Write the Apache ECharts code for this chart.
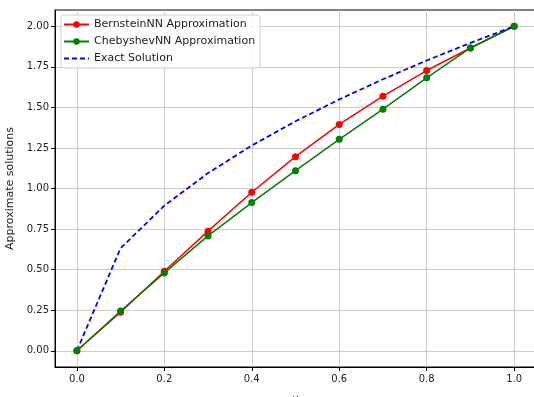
<!DOCTYPE html>
<html>
<head>
<meta charset="utf-8">
<script src="https://cdn.jsdelivr.net/npm/echarts@6/dist/echarts.min.js"></script>
<style>
  html, body { margin: 0; padding: 0; background: #fff; }
  #chart { width: 534px; height: 397px; }
</style>
</head>
<body>
<div id="chart"></div>
<script>
// u values (x axis)
const uValues = [0.0, 0.1, 0.2, 0.3, 0.4, 0.5, 0.6, 0.7, 0.8, 0.9, 1.0];
// BernsteinNN approximation
const bernstein = [0.0, 0.238, 0.49, 0.737, 0.977, 1.196, 1.395, 1.569, 1.727, 1.866, 2.0];
// ChebyshevNN approximation
const chebyshev = [0.0, 0.245, 0.48, 0.708, 0.913, 1.11, 1.303, 1.489, 1.682, 1.866, 2.0];
// exact solution
const exact = [0.0, 0.632, 0.894, 1.095, 1.265, 1.414, 1.549, 1.673, 1.789, 1.897, 2.0];
// tick labels
const xTicks = [0.0, 0.2, 0.4, 0.6, 0.8, 1.0];
const yTicks = [0.0, 0.25, 0.5, 0.75, 1.0, 1.25, 1.5, 1.75, 2.0];

const pairs = (ys) => uValues.map((u, i) => [u, ys[i]]);

const font = 'DejaVu Sans';
const myChart = echarts.init(document.getElementById('chart'));

const axisCommon = {
    type: 'value',
    axisLine: { show: true, onZero: false, lineStyle: { color: '#000', width: 1 } },
    axisTick: { show: true, length: 4, lineStyle: { color: '#000', width: 1 } },
    splitLine: { show: true, lineStyle: { color: '#c0c0c0', width: 0.8 } },
    nameTextStyle: { fontFamily: font, fontSize: 11, color: '#222' }
};

const option = {
    animation: false,
    grid: {
        left: 55, top: 10, width: 481, height: 357,
        outerBoundsMode: 'none', containLabel: false,
        show: true, borderColor: '#000', borderWidth: 1
    },
    legend: {
        left: 61,
        top: 15,
        orient: 'vertical',
        itemWidth: 25,
        itemHeight: 8,
        itemGap: 6,
        padding: [4, 5, 4, 2],
        backgroundColor: 'rgba(255,255,255,0.85)',
        borderColor: '#d0d0d0',
        borderWidth: 1,
        borderRadius: 3,
        textStyle: { fontFamily: font, fontSize: 11, color: '#222' },
        data: [
            'BernsteinNN Approximation',
            'ChebyshevNN Approximation',
            { name: 'Exact Solution', itemStyle: { opacity: 0 } }
        ]
    },
    xAxis: Object.assign({}, axisCommon, {
        min: -0.05,
        max: 1.05,
        name: 'u',
        nameLocation: 'middle',
        nameGap: 27,
        axisTick: Object.assign({}, axisCommon.axisTick, { customValues: xTicks }),
        axisLabel: {
            customValues: xTicks,
            fontFamily: font, fontSize: 10, color: '#222', margin: 7,
            formatter: (v) => v.toFixed(1)
        }
    }),
    yAxis: Object.assign({}, axisCommon, {
        min: -0.1,
        max: 2.1,
        name: 'Approximate solutions',
        nameLocation: 'middle',
        nameGap: 37,
        axisTick: Object.assign({}, axisCommon.axisTick, { customValues: yTicks }),
        axisLabel: {
            customValues: yTicks,
            fontFamily: font, fontSize: 10, color: '#222', margin: 6,
            formatter: (v) => v.toFixed(2)
        }
    }),
    series: [
        {
            name: 'BernsteinNN Approximation',
            type: 'line',
            data: pairs(bernstein),
            symbol: 'circle',
            symbolSize: 7,
            color: '#ff0000',
            lineStyle: { width: 1.5, color: '#ff0000' },
            itemStyle: { color: '#ff0000' }
        },
        {
            name: 'ChebyshevNN Approximation',
            type: 'line',
            data: pairs(chebyshev),
            symbol: 'circle',
            symbolSize: 7,
            color: '#008000',
            lineStyle: { width: 1.5, color: '#008000' },
            itemStyle: { color: '#008000' }
        },
        {
            name: 'Exact Solution',
            type: 'line',
            data: pairs(exact),
            symbol: 'none',
            color: '#0000ff',
            lineStyle: { width: 1.8, color: '#0000ff', type: [5, 3] },
            itemStyle: { color: '#0000ff' }
        }
    ]
};

myChart.setOption(option);
</script>
</body>
</html>
